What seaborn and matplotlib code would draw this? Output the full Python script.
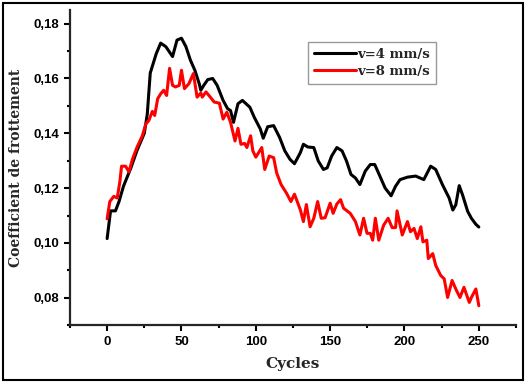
import pandas as pd
import matplotlib
matplotlib.use("Agg")
import matplotlib.pyplot as plt
import matplotlib.ticker as mticker
from matplotlib.patches import Rectangle
import seaborn as sns

# friction coefficient vs cycles
cycles_v4 = [0, 2.3, 5.6, 8, 11, 16, 20, 25, 27, 29, 33, 36, 39.5, 44, 47, 50, 53, 56, 59, 62,
             63, 65, 67.7, 71, 74, 78, 81, 83, 85, 88, 91, 96, 99, 103, 105, 108, 112, 116,
             119.5, 123, 126, 130, 132, 135, 139, 142, 145.5, 148, 151, 154.5, 158, 161, 164,
             167, 170, 173.6, 177, 180, 184, 187, 191, 194, 197, 202, 207.5, 213, 217.6, 221,
             225.5, 230, 232.5, 234.5, 236.8, 239, 242.5, 245, 248, 250]
coef_v4 = [0.1016, 0.1117, 0.1117, 0.1151, 0.1207, 0.1274, 0.1336, 0.140, 0.147, 0.162, 0.169,
           0.1729, 0.1716, 0.168, 0.174, 0.1747, 0.1716, 0.1667, 0.163, 0.158, 0.1557, 0.1575,
           0.1596, 0.160, 0.1575, 0.152, 0.149, 0.1483, 0.144, 0.1508, 0.152, 0.1495, 0.1458,
           0.1416, 0.1382, 0.1424, 0.1428, 0.1385, 0.1336, 0.1305, 0.1289, 0.133, 0.136, 0.135,
           0.1348, 0.1299, 0.1268, 0.1274, 0.1317, 0.1348, 0.1336, 0.1299, 0.125, 0.1237,
           0.1213, 0.1262, 0.1286, 0.1286, 0.1237, 0.120, 0.1172, 0.1207, 0.1231, 0.124,
           0.1244, 0.1231, 0.128, 0.1268, 0.1213, 0.1164, 0.112, 0.1139, 0.1209, 0.1176,
           0.1115, 0.109, 0.1068, 0.1058]

cycles_v8 = [0, 1.8, 4.5, 6.8, 8.6, 9.7, 12.4, 14.7, 17, 20, 23.7, 26, 28, 30.4, 32, 34, 36, 38,
             40, 42, 44, 46, 48.5, 50, 52, 55, 58, 60.5, 63, 64, 66.5, 70, 72, 75.5, 78, 80.5,
             83, 86, 88, 90, 92.5, 94, 96.5, 98, 100, 104, 106, 109, 112, 114, 117, 120.6,
             123.6, 126, 130, 132, 134, 136.5, 139, 141.6, 144, 146.6, 150, 152, 154.5, 157,
             159, 163.5, 167, 170, 172.5, 174.8, 177, 178.6, 180.4, 182.7, 186, 189, 191.7,
             194, 195, 198.5, 202, 204, 206.4, 208.6, 211, 212.4, 215, 216, 219, 221, 224.4,
             226.7, 229, 232, 234.5, 237.3, 240, 243.6, 245, 248, 250]
coef_v8 = [0.1088, 0.1151, 0.117, 0.1164, 0.1225, 0.128, 0.128, 0.1259, 0.1305, 0.1348, 0.1391,
           0.1434, 0.1446, 0.148, 0.1465, 0.1526, 0.1544, 0.1557, 0.1538, 0.1637, 0.1575,
           0.1569, 0.1575, 0.163, 0.1563, 0.1581, 0.1618, 0.1532, 0.1547, 0.1532, 0.1551,
           0.1528, 0.1514, 0.151, 0.1452, 0.1477, 0.144, 0.1372, 0.1418, 0.136, 0.1363, 0.1348,
           0.1391, 0.1336, 0.1313, 0.1348, 0.1268, 0.1317, 0.1311, 0.1256, 0.1213, 0.1182,
           0.1151, 0.1178, 0.112, 0.1078, 0.114, 0.1059, 0.109, 0.1151, 0.109, 0.1092, 0.1145,
           0.1108, 0.1142, 0.1158, 0.1127, 0.1108, 0.1078, 0.1029, 0.109, 0.1035, 0.1035,
           0.101, 0.109, 0.101, 0.1065, 0.109, 0.1056, 0.1056, 0.1117, 0.1029, 0.1078, 0.1041,
           0.1053, 0.1016, 0.1059, 0.1004, 0.101, 0.0943, 0.0961, 0.0918, 0.0881, 0.0869,
           0.0801, 0.0863, 0.0832, 0.0801, 0.0838, 0.0783, 0.0801, 0.0832, 0.0771]

labels = ["v=4 mm/s", "v=8 mm/s"]
colors = ["black", "#ff0000"]

df = pd.concat([
    pd.DataFrame({"Cycles": cycles_v4, "coef": coef_v4, "serie": labels[0]}),
    pd.DataFrame({"Cycles": cycles_v8, "coef": coef_v8, "serie": labels[1]}),
], ignore_index=True)

sns.set_style("ticks")
fig = plt.figure(figsize=(5.26, 3.83), dpi=100)
ax = fig.add_axes([0.133, 0.151, 0.848, 0.823])

sns.lineplot(data=df, x="Cycles", y="coef", hue="serie", palette=colors,
             linewidth=2.2, sort=False, estimator=None, ax=ax)

ax.set_xlim(-25, 275)
ax.set_ylim(0.07, 0.185)
ax.xaxis.set_major_locator(mticker.MultipleLocator(50))
ax.xaxis.set_minor_locator(mticker.MultipleLocator(25))
ax.yaxis.set_major_locator(mticker.MultipleLocator(0.02))
ax.yaxis.set_minor_locator(mticker.MultipleLocator(0.01))
ax.yaxis.set_major_formatter(mticker.FuncFormatter(lambda v, p: f"{v:.2f}".replace(".", ",")))

sns.despine(ax=ax)
for s in ["left", "bottom"]:
    ax.spines[s].set_linewidth(1.6)
ax.tick_params(which="major", direction="out", length=4, width=1.5, colors="black")
ax.tick_params(which="minor", direction="out", length=2.5, width=1.5, colors="black")
for lab in ax.get_xticklabels() + ax.get_yticklabels():
    lab.set_fontweight("bold")
    lab.set_fontsize(9.5)
    lab.set_family("Liberation Sans")

ax.set_xlabel("Cycles", fontsize=11, fontweight="bold", family="DejaVu Serif", labelpad=7)
ax.set_ylabel("Coefficient de frottement", fontsize=10, fontweight="bold",
              family="DejaVu Serif", labelpad=8)

leg = ax.legend(loc="upper left", bbox_to_anchor=(0.518, 0.92), frameon=True, fancybox=False,
                handlelength=3.2, handletextpad=0.1, borderpad=0.45, labelspacing=0.3,
                prop={"family": "DejaVu Serif", "weight": "bold", "size": 9.5})
leg.get_frame().set_edgecolor("gray")
leg.get_frame().set_linewidth(1.0)
for line in leg.get_lines():
    line.set_linewidth(2.2)

fig.add_artist(Rectangle((0.006, 0.008), 0.988, 0.984, transform=fig.transFigure,
                         fill=False, edgecolor="black", linewidth=1.5))

fig.savefig("out.png", dpi=100)
